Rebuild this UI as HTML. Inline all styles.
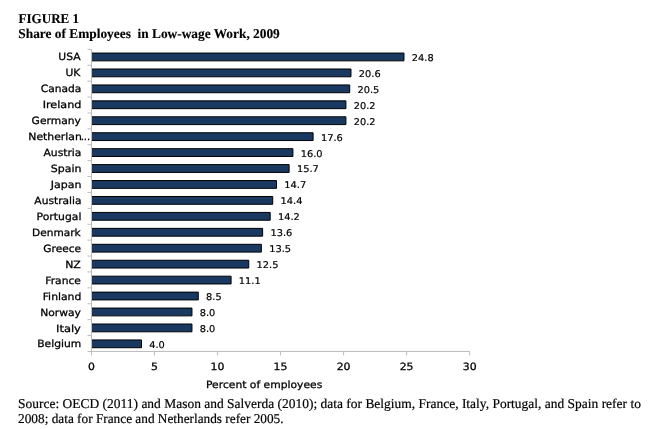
<!DOCTYPE html>
<html lang="en"><head><meta charset="utf-8"><title>Figure 1</title>
<style>
html,body{margin:0;padding:0;background:#fff;}
body{width:663px;height:429px;overflow:hidden;position:relative;}
svg{position:absolute;left:0;top:0;display:block;}
.t{font-family:"Liberation Serif",serif;font-weight:bold;font-size:13.5px;text-rendering:geometricPrecision;fill:#000;stroke:#000;stroke-width:0.12px;}
.s{font-family:"Liberation Serif",serif;font-size:13.5px;text-rendering:geometricPrecision;fill:#000;stroke:#000;stroke-width:0.18px;}
.c{font-family:"DejaVu Sans","Liberation Sans",sans-serif;font-size:10px;text-rendering:geometricPrecision;fill:#000;stroke:#000;stroke-width:0.27px;}
.v{font-family:"DejaVu Sans","Liberation Sans",sans-serif;font-size:9.3px;text-rendering:geometricPrecision;fill:#000;stroke:#000;stroke-width:0.2px;}
.a{font-family:"DejaVu Sans","Liberation Sans",sans-serif;font-size:10px;text-rendering:geometricPrecision;fill:#000;stroke:#000;stroke-width:0.27px;}
</style></head><body>
<svg width="663" height="429" viewBox="0 0 663 429">
<rect width="663" height="429" fill="#fff"/>
<text class="t" x="18.5" y="23.2" textLength="60.6" lengthAdjust="spacingAndGlyphs">FIGURE 1</text>
<text class="t" x="18.3" y="38.1" xml:space="preserve" textLength="261.5" lengthAdjust="spacingAndGlyphs">Share of Employees  in Low-wage Work, 2009</text>

<g stroke="#bcbcbc" stroke-width="1" fill="none">
<line x1="91.5" y1="49.35" x2="91.5" y2="351.45"/>
<line x1="91.0" y1="351.45" x2="470.15000000000003" y2="351.45"/>
<line x1="87.5" y1="49.35" x2="91.5" y2="49.35"/>
<line x1="87.5" y1="65.25" x2="91.5" y2="65.25"/>
<line x1="87.5" y1="81.15" x2="91.5" y2="81.15"/>
<line x1="87.5" y1="97.05" x2="91.5" y2="97.05"/>
<line x1="87.5" y1="112.95" x2="91.5" y2="112.95"/>
<line x1="87.5" y1="128.85" x2="91.5" y2="128.85"/>
<line x1="87.5" y1="144.75" x2="91.5" y2="144.75"/>
<line x1="87.5" y1="160.65" x2="91.5" y2="160.65"/>
<line x1="87.5" y1="176.55" x2="91.5" y2="176.55"/>
<line x1="87.5" y1="192.45" x2="91.5" y2="192.45"/>
<line x1="87.5" y1="208.35" x2="91.5" y2="208.35"/>
<line x1="87.5" y1="224.25" x2="91.5" y2="224.25"/>
<line x1="87.5" y1="240.15" x2="91.5" y2="240.15"/>
<line x1="87.5" y1="256.05" x2="91.5" y2="256.05"/>
<line x1="87.5" y1="271.95" x2="91.5" y2="271.95"/>
<line x1="87.5" y1="287.85" x2="91.5" y2="287.85"/>
<line x1="87.5" y1="303.75" x2="91.5" y2="303.75"/>
<line x1="87.5" y1="319.65" x2="91.5" y2="319.65"/>
<line x1="87.5" y1="335.55" x2="91.5" y2="335.55"/>
<line x1="87.5" y1="351.45" x2="91.5" y2="351.45"/>
<line x1="91.50" y1="351.45" x2="91.50" y2="355.45"/>
<line x1="154.53" y1="351.45" x2="154.53" y2="355.45"/>
<line x1="217.55" y1="351.45" x2="217.55" y2="355.45"/>
<line x1="280.58" y1="351.45" x2="280.58" y2="355.45"/>
<line x1="343.60" y1="351.45" x2="343.60" y2="355.45"/>
<line x1="406.62" y1="351.45" x2="406.62" y2="355.45"/>
<line x1="469.65" y1="351.45" x2="469.65" y2="355.45"/>
</g>
<g fill="#1a3960" stroke="#000" stroke-width="1" stroke-linejoin="miter">
<path d="M92.0 53.05H403.98V60.85H92.0"/>
<path d="M92.0 68.99H350.97V76.79H92.0"/>
<path d="M92.0 84.93H349.71V92.73H92.0"/>
<path d="M92.0 100.86H345.92V108.66H92.0"/>
<path d="M92.0 116.80H345.92V124.60H92.0"/>
<path d="M92.0 132.74H313.11V140.54H92.0"/>
<path d="M92.0 148.68H292.92V156.48H92.0"/>
<path d="M92.0 164.62H289.13V172.42H92.0"/>
<path d="M92.0 180.55H276.51V188.35H92.0"/>
<path d="M92.0 196.49H272.73V204.29H92.0"/>
<path d="M92.0 212.43H270.20V220.23H92.0"/>
<path d="M92.0 228.37H262.63V236.17H92.0"/>
<path d="M92.0 244.31H261.37V252.11H92.0"/>
<path d="M92.0 260.24H248.75V268.04H92.0"/>
<path d="M92.0 276.18H231.08V283.98H92.0"/>
<path d="M92.0 292.12H198.27V299.92H92.0"/>
<path d="M92.0 308.06H191.96V315.86H92.0"/>
<path d="M92.0 324.00H191.96V331.80H92.0"/>
<path d="M92.0 339.93H141.48V347.73H92.0"/>
</g>
<text id="c0" class="c" x="58.35" y="60" textLength="22.26" lengthAdjust="spacingAndGlyphs">USA</text>
<text id="v0" class="v" x="411.78" y="61" textLength="21.86" lengthAdjust="spacingAndGlyphs">24.8</text>
<text id="c1" class="c" x="65.49" y="76" textLength="14.90" lengthAdjust="spacingAndGlyphs">UK</text>
<text id="v1" class="v" x="358.77" y="77" textLength="21.86" lengthAdjust="spacingAndGlyphs">20.6</text>
<text id="c2" class="c" x="40.78" y="92" textLength="40.58" lengthAdjust="spacingAndGlyphs">Canada</text>
<text id="v2" class="v" x="357.51" y="93" textLength="21.86" lengthAdjust="spacingAndGlyphs">20.5</text>
<text id="c3" class="c" x="42.66" y="108" textLength="38.83" lengthAdjust="spacingAndGlyphs">Ireland</text>
<text id="v3" class="v" x="353.73" y="109" textLength="21.86" lengthAdjust="spacingAndGlyphs">20.2</text>
<text id="c4" class="c" x="31.62" y="124" textLength="49.27" lengthAdjust="spacingAndGlyphs">Germany</text>
<text id="v4" class="v" x="353.73" y="125" textLength="21.86" lengthAdjust="spacingAndGlyphs">20.2</text>
<text class="c" x="80.7" y="140">...</text>
<text id="c5" class="c" x="28.32" y="140" textLength="53.50" lengthAdjust="spacingAndGlyphs">Netherlan</text>
<text id="v5" class="v" x="320.91" y="141" textLength="21.86" lengthAdjust="spacingAndGlyphs">17.6</text>
<text id="c6" class="c" x="43.50" y="156" textLength="37.94" lengthAdjust="spacingAndGlyphs">Austria</text>
<text id="v6" class="v" x="300.72" y="157" textLength="21.86" lengthAdjust="spacingAndGlyphs">16.0</text>
<text id="c7" class="c" x="50.80" y="172" textLength="30.70" lengthAdjust="spacingAndGlyphs">Spain</text>
<text id="v7" class="v" x="296.94" y="172" textLength="21.86" lengthAdjust="spacingAndGlyphs">15.7</text>
<text id="c8" class="c" x="50.82" y="188" textLength="30.68" lengthAdjust="spacingAndGlyphs">Japan</text>
<text id="v8" class="v" x="284.32" y="188" textLength="21.86" lengthAdjust="spacingAndGlyphs">14.7</text>
<text id="c9" class="c" x="34.36" y="204" textLength="47.13" lengthAdjust="spacingAndGlyphs">Australia</text>
<text id="v9" class="v" x="280.53" y="204" textLength="21.86" lengthAdjust="spacingAndGlyphs">14.4</text>
<text id="c10" class="c" x="36.53" y="220" textLength="44.92" lengthAdjust="spacingAndGlyphs">Portugal</text>
<text id="v10" class="v" x="278.01" y="220" textLength="21.86" lengthAdjust="spacingAndGlyphs">14.2</text>
<text id="c11" class="c" x="32.05" y="236" textLength="48.61" lengthAdjust="spacingAndGlyphs">Denmark</text>
<text id="v11" class="v" x="270.43" y="236" textLength="21.86" lengthAdjust="spacingAndGlyphs">13.6</text>
<text id="c12" class="c" x="43.33" y="252" textLength="37.77" lengthAdjust="spacingAndGlyphs">Greece</text>
<text id="v12" class="v" x="269.17" y="252" textLength="21.86" lengthAdjust="spacingAndGlyphs">13.5</text>
<text id="c13" class="c" x="65.23" y="268" textLength="15.64" lengthAdjust="spacingAndGlyphs">NZ</text>
<text id="v13" class="v" x="256.55" y="268" textLength="21.86" lengthAdjust="spacingAndGlyphs">12.5</text>
<text id="c14" class="c" x="45.34" y="284" textLength="35.60" lengthAdjust="spacingAndGlyphs">France</text>
<text id="v14" class="v" x="238.88" y="284" textLength="21.86" lengthAdjust="spacingAndGlyphs">11.1</text>
<text id="c15" class="c" x="42.69" y="300" textLength="38.65" lengthAdjust="spacingAndGlyphs">Finland</text>
<text id="v15" class="v" x="206.07" y="300" textLength="15.61" lengthAdjust="spacingAndGlyphs">8.5</text>
<text id="c16" class="c" x="40.25" y="316" textLength="40.70" lengthAdjust="spacingAndGlyphs">Norway</text>
<text id="v16" class="v" x="199.76" y="316" textLength="15.61" lengthAdjust="spacingAndGlyphs">8.0</text>
<text id="c17" class="c" x="56.02" y="332" textLength="24.88" lengthAdjust="spacingAndGlyphs">Italy</text>
<text id="v17" class="v" x="199.76" y="332" textLength="15.61" lengthAdjust="spacingAndGlyphs">8.0</text>
<text id="c18" class="c" x="37.24" y="347" textLength="44.07" lengthAdjust="spacingAndGlyphs">Belgium</text>
<text id="v18" class="v" x="149.28" y="348" textLength="15.61" lengthAdjust="spacingAndGlyphs">4.0</text>
<text class="a" x="88.03" y="369.8" textLength="6.93" lengthAdjust="spacingAndGlyphs">0</text>
<text class="a" x="151.06" y="369.8" textLength="6.93" lengthAdjust="spacingAndGlyphs">5</text>
<text class="a" x="210.62" y="369.8" textLength="13.86" lengthAdjust="spacingAndGlyphs">10</text>
<text class="a" x="273.64" y="369.8" textLength="13.86" lengthAdjust="spacingAndGlyphs">15</text>
<text class="a" x="336.67" y="369.8" textLength="13.86" lengthAdjust="spacingAndGlyphs">20</text>
<text class="a" x="399.69" y="369.8" textLength="13.86" lengthAdjust="spacingAndGlyphs">25</text>
<text class="a" x="462.72" y="369.8" textLength="13.86" lengthAdjust="spacingAndGlyphs">30</text>
<text id="xl" class="a" x="206.03" y="388.3" textLength="116.24" lengthAdjust="spacingAndGlyphs">Percent of employees</text>
<text class="s" x="18.1" y="407.9" textLength="622.8" lengthAdjust="spacingAndGlyphs">Source: OECD (2011) and Mason and Salverda (2010); data for Belgium, France, Italy, Portugal, and Spain refer to</text>
<text class="s" x="18.1" y="423.2" textLength="265.5" lengthAdjust="spacingAndGlyphs">2008; data for France and Netherlands refer 2005.</text>
</svg></body></html>
